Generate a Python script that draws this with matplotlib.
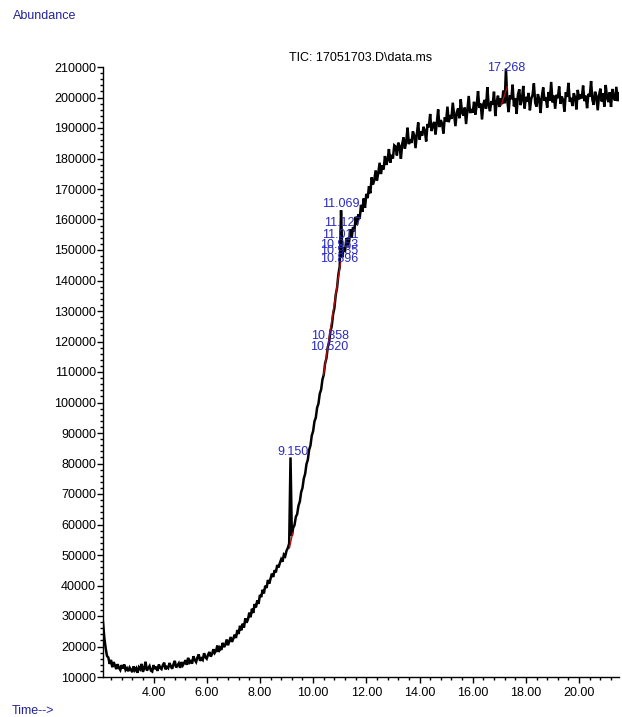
# -*- coding: utf-8 -*-
"""
    TIC chromatogram redraw (ChemStation style export).
    Abundance vs retention time, integration baselines in red,
    peak retention times written above the peaks in blue.
"""
#=======================================================================
import numpy as np
import matplotlib
matplotlib.use("Agg")
import matplotlib.pyplot as plt
from matplotlib.ticker import MultipleLocator, FormatStrFormatter
#=======================================================================

                               # Scan grid (minutes)
T_START = 2.10
T_STEP  = 0.05

# Abundance, in thousands of counts, one value per scan
abund_k = [
    # 2.10 - 3.05
    28.0, 22.8, 19.5, 16.9, 16.4, 14.3, 15.6, 13.2, 14.9, 13.8,
    12.6, 14.2, 13.0, 12.3, 13.9, 12.8, 14.1, 12.3, 12.9, 11.9,
    # 3.10 - 4.05
    13.1, 12.4, 11.6, 13.5, 12.2, 12.9, 11.4, 13.2, 12.6, 14.3,
    11.7, 12.8, 15.0, 12.1, 12.9, 13.6, 12.1, 11.8, 13.9, 12.6,
    # 4.10 - 5.05
    13.4, 12.0, 14.1, 13.0, 12.6, 13.9, 14.7, 12.5, 13.3, 12.9,
    14.6, 13.5, 12.7, 14.2, 15.3, 13.1, 13.8, 14.5, 13.0, 14.9,
    # 5.10 - 6.05
    13.8, 14.6, 15.5, 14.0, 16.3, 14.7, 15.2, 14.4, 16.8, 15.6,
    14.9, 16.4, 17.4, 15.3, 16.1, 15.6, 17.8, 16.5, 16.0, 17.3,
    # 6.10 - 7.05
    18.2, 16.7, 17.5, 19.1, 17.9, 18.6, 20.3, 18.2, 19.6, 18.9,
    21.2, 19.8, 20.6, 22.3, 20.4, 21.8, 23.1, 21.5, 22.6, 23.9,
    # 7.10 - 8.05
    22.8, 25.4, 24.1, 26.8, 25.3, 27.5, 26.2, 29.2, 27.8, 28.9,
    31.1, 29.6, 32.4, 31.0, 33.9, 32.8, 35.1, 34.0, 36.9, 36.2,
    # 8.10 - 9.05
    38.6, 37.4, 39.9, 39.2, 41.8, 40.6, 42.3, 43.9, 42.8, 45.0,
    44.3, 46.7, 45.9, 47.4, 48.6, 47.8, 50.1, 49.6, 51.4, 52.3,
    # 9.10 - 10.05
    53.8, 82.0, 56.3, 58.9, 59.8, 62.5, 63.4, 66.2, 67.5, 70.6,
    72.0, 75.1, 76.6, 79.8, 81.2, 84.5, 85.9, 89.2, 90.6, 93.8,
    # 10.10 - 11.05
    95.0, 98.3, 99.6, 102.9, 104.2, 107.5, 109.1, 112.8, 114.5, 118.1,
    119.7, 123.4, 125.0, 128.9, 131.0, 135.3, 137.6, 142.0, 144.6, 163.0,
    # 11.10 - 12.05
    147.6, 150.8, 149.5, 153.9, 151.2, 152.6, 156.8, 154.0, 157.5, 156.1,
    160.9, 158.3, 161.7, 160.2, 164.8, 162.5, 166.9, 163.8, 168.4, 167.0,
    # 12.10 - 13.05
    170.9, 168.6, 173.8, 171.5, 172.9, 176.1, 172.8, 175.3, 178.6, 174.9,
    177.7, 176.4, 180.8, 177.9, 179.5, 183.1, 178.6, 181.2, 180.0, 184.3,
    # 13.10 - 14.05
    183.9, 181.0, 185.2, 184.1, 179.9, 184.8, 186.9, 183.2, 185.5, 190.1,
    184.7, 186.3, 185.1, 188.9, 187.6, 183.4, 188.0, 191.8, 186.2, 188.9,
    # 14.10 - 15.05
    187.5, 190.4, 189.1, 185.6, 191.3, 190.2, 194.6, 189.0, 190.8, 192.0,
    187.9, 191.5, 196.1, 190.3, 192.6, 191.4, 188.2, 193.5, 192.1, 197.0,
    # 15.10 - 16.05
    191.9, 194.2, 193.0, 198.3, 194.5, 190.6, 195.1, 196.4, 193.2, 199.4,
    195.0, 194.1, 196.7, 191.3, 195.8, 200.5, 194.9, 196.2, 195.0, 198.6,
    # 16.10 - 17.05
    194.4, 197.5, 202.1, 196.6, 198.0, 192.8, 197.9, 199.2, 196.3, 203.4,
    197.4, 195.5, 198.8, 197.6, 201.9, 193.9, 198.5, 200.6, 196.9, 199.7,
    # 17.10 - 18.05
    197.8, 202.3, 198.1, 209.5, 198.9, 195.2, 200.7, 199.4, 204.2, 197.1,
    199.8, 194.6, 200.9, 202.7, 197.5, 199.3, 203.8, 196.4, 200.2, 198.6,
    # 18.10 - 19.05
    201.5, 195.8, 199.6, 200.8, 204.6, 198.2, 197.0, 201.1, 199.5, 194.9,
    200.4, 203.3, 198.9, 200.1, 196.7, 201.8, 199.0, 205.1, 198.4, 200.6,
    # 19.10 - 20.05
    196.3, 200.9, 199.8, 203.6, 197.9, 200.3, 199.1, 195.4, 201.7, 200.2,
    204.8, 198.6, 199.9, 197.2, 201.4, 200.0, 196.1, 202.5, 199.4, 201.0,
    # 20.10 - 21.05
    199.7, 203.9, 198.8, 200.6, 196.5, 201.2, 200.3, 205.4, 199.2, 197.6,
    201.9, 200.4, 195.8, 200.8, 202.9, 198.7, 201.3, 197.0, 204.1, 200.0,
    # 21.10 - 21.50
    198.5, 201.7, 196.9, 202.8, 200.2, 199.0, 203.5, 198.8, 201.4,
]

                               # Integration baselines (start rt, abund, end rt, abund)
base_t0 = [9.11, 10.39, 17.07]
base_a0 = [52300, 109000, 197500]
base_t1 = [9.23, 11.03, 17.30]
base_a1 = [57200, 145700, 203500]

                               # Peak labels (retention times as printed)
peak_labels = ['17.268', '11.069', '11.127', '11.011', '10.953', '10.935',
               '10.896', '10.858', '10.520', '9.150']
# where each label sits (time, abundance)
label_t = [17.27, 11.04, 11.10, 11.03, 10.98, 10.99, 10.98, 10.62, 10.62, 9.26]
label_a = [209700, 165100, 158900, 154900, 151600, 149700, 147000,
           121800, 118200, 83800]

TITLE = r'TIC: 17051703.D\data.ms'
BLUE_TXT = '#23239a'
PEAK_TXT = '#2a2ac4'
FONT = ['Liberation Sans', 'DejaVu Sans']

#------------------------------------------------------------------------------
def scan_times(n):
    return np.round(T_START + T_STEP * np.arange(n), 2)
# end scan_times
#------------------------------------------------------------------------------
def plot_tic():
    plt.rcParams['font.family'] = FONT
    fig = plt.figure(figsize=(6.22, 7.17), dpi=100)
    ax = fig.add_axes([103 / 622, 40 / 717, 516 / 622, 610 / 717])

    rt = scan_times(len(abund_k))
    ax.plot(rt, np.array(abund_k) * 1000, color='black', lw=1.8,
            solid_joinstyle='miter')

    for i in range(len(base_t0)):
        ax.plot([base_t0[i], base_t1[i]], [base_a0[i], base_a1[i]],
                color='#b01010', lw=1.0)

    for lab, x, y in zip(peak_labels, label_t, label_a):
        ax.text(x, y, lab, color=PEAK_TXT, fontsize=9, ha='center',
                va='center', clip_on=False)

    ax.set_xlim(2.1, 21.5)
    ax.set_ylim(10000, 210000)

    ax.xaxis.set_major_locator(MultipleLocator(2.0))
    ax.xaxis.set_minor_locator(MultipleLocator(0.4))
    ax.xaxis.set_major_formatter(FormatStrFormatter('%.2f'))
    ax.yaxis.set_major_locator(MultipleLocator(10000))
    ax.yaxis.set_minor_locator(MultipleLocator(2000))
    ax.yaxis.set_major_formatter(FormatStrFormatter('%d'))

    ax.tick_params(which='major', direction='out', length=4, width=1,
                   labelsize=9, pad=1)
    ax.tick_params(which='minor', direction='out', length=2, width=1)
    ax.tick_params(axis='x', pad=3)

    for side in ('top', 'right'):
        ax.spines[side].set_visible(False)
    for side in ('left', 'bottom'):
        ax.spines[side].set_linewidth(1.0)

    fig.text(361 / 622, 1 - 58 / 717, TITLE, fontsize=9, ha='center',
             va='center', color='black')
    fig.text(13 / 622, 1 - 16 / 717, 'Abundance', fontsize=9, ha='left',
             va='center', color=BLUE_TXT)
    fig.text(12 / 622, 1 - 711 / 717, 'Time-->', fontsize=9, ha='left',
             va='center', color=BLUE_TXT)

    fig.savefig('out.png', dpi=100)
    plt.close(fig)
# end plot_tic
#==============================================================================
if __name__ == '__main__':
    plot_tic()
